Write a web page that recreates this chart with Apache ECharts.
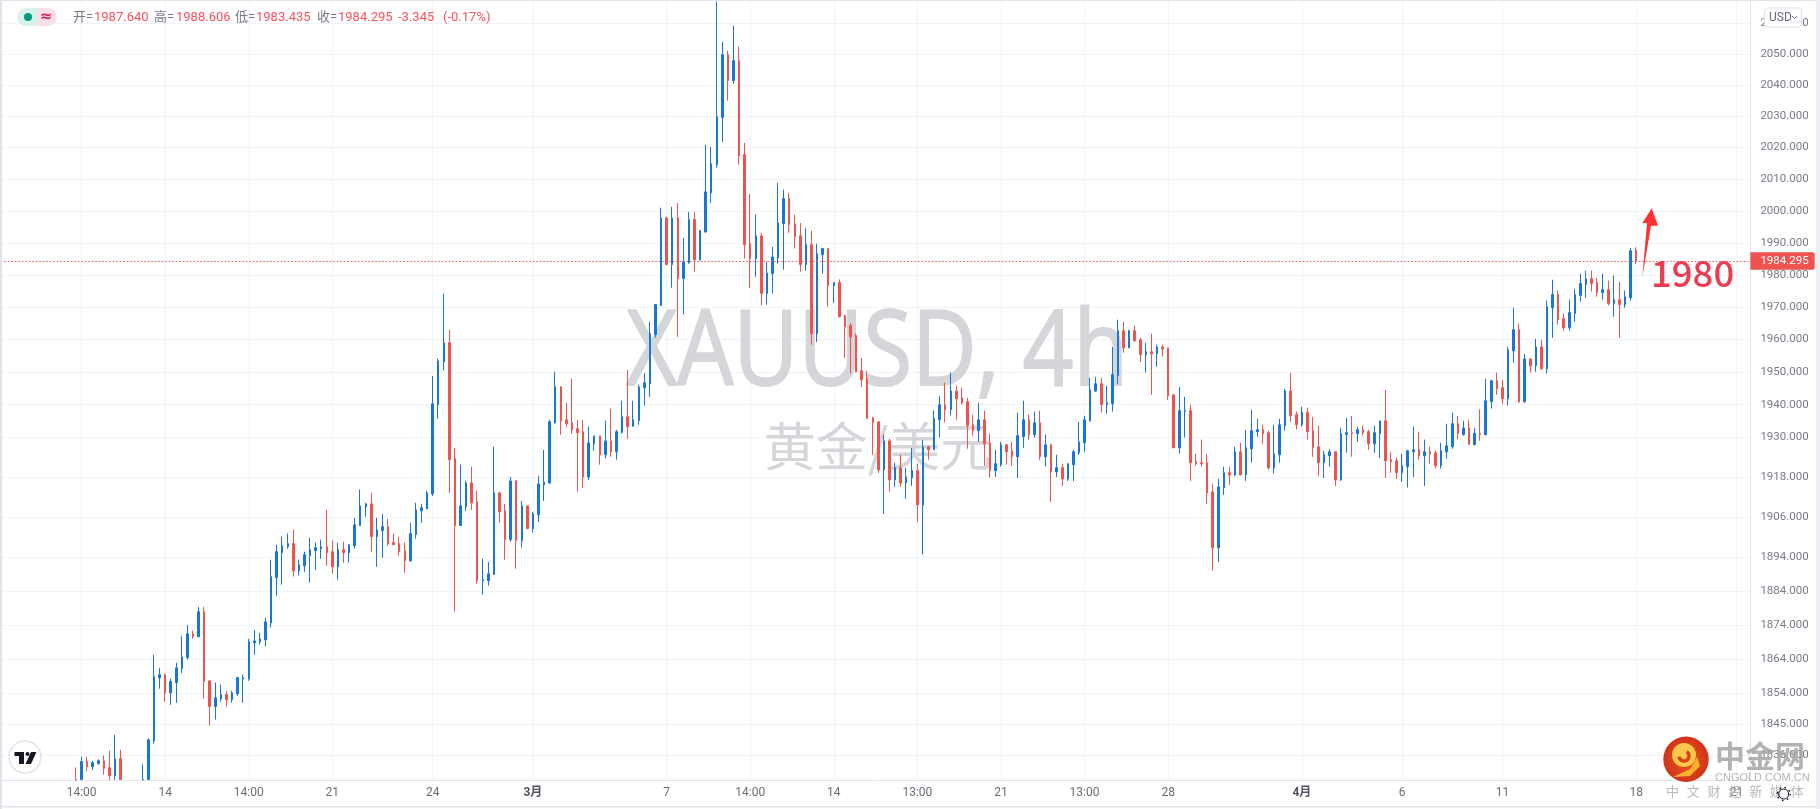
<!DOCTYPE html>
<html>
<head>
	<meta http-equiv="Content-Type" content="text/html; charset=utf-8">
	<title>XAUUSD 4h</title>
	<style>
		html,body{margin:0;padding:0;background:#fff;}
		#main{width:1820px;height:809px;}
	</style>
</head>
<body>
	<div id="main"></div>
<script type="text/javascript" src="https://cdn.jsdelivr.net/npm/echarts@6/dist/echarts.min.js"></script>
<script type="text/javascript">
	var barCount = 314;
	var firstBar = 13;
	// x轴刻度：所在K线序号和文字
	var tickIndex = [14,29,44,59,77,95,119,134,149,164,179,194,209,233,251,269,293,311];
	var tickLabel = ['14:00','14','14:00','21','24','3月','7','14:00','14','13:00','21','13:00','28','4月','6','11','18','21'];
	// y轴刻度（对数坐标，间隔不等）
	var priceTicks = [2060,2050,2040,2030,2020,2010,2000,1990,1980,1970,1960,1950,1940,1930,1918,1906,1894,1884,1874,1864,1854,1845,1836];
	var priceMin = 1828.9;
	var priceMax = 2066.9;
	var lastPrice = 1984.295;
	// 左上角 开高低收
	var legendLabels = ['开=','高=','低=','收='];
	var legendValues = ['1987.640','1988.606','1983.435','1984.295','-3.345','(-0.17%)'];
	var brandLine = ['中','文','财','经','新','媒','体'];
	// K线 [开, 收, 低, 高]，从序号13开始，看不到的几根留空
	var ohlc = [
		[1829,1828.9,1828.9,1832.5],[1829,1834.2,1829,1835.6],[1834.2,1832.7,1831.4,1835.6],[1832.7,1833.9,1831.7,1834.4],
		[1833.6,1834.4,1833.3,1834.8],[1834.4,1832.2,1830.4,1835.9],[1832.4,1830.1,1828.9,1837.3],[1830.1,1835,1828.9,1841.9],
		[1835,1829,1829,1837.6],null,null,null,
		[1828.9,1829,1828.9,1833.3],[1829,1840.5,1829,1840.8],[1840.2,1858.8,1839.3,1865.2],[1858.5,1859.4,1855.3,1861.4],
		[1859.4,1854.1,1851.5,1859.7],[1854.1,1857.4,1850.6,1858.2],[1857.1,1861.4,1851.2,1862.9],[1861.1,1864.6,1859.9,1870.8],
		[1864.4,1871.4,1863.8,1874],[1871.4,1870.5,1869.9,1872.3],[1870.5,1877.9,1870.5,1879.3],[1877.9,1857.4,1852.4,1879.3],
		[1857.6,1850.1,1844.6,1857.6],[1850.1,1852.7,1846.3,1857.1],[1852.4,1853.6,1851.5,1856.5],[1853.6,1852.1,1850.1,1854.7],
		[1852.1,1854.1,1851.2,1854.7],[1853.8,1858.5,1853.2,1858.8],[1858.2,1858.5,1851.2,1859.4],[1858.2,1869,1857.6,1869.9],
		[1868.7,1869.3,1865.2,1872.6],[1869,1869.9,1868.2,1871.7],[1869.6,1874.9,1867.6,1876.1],[1874.6,1888.3,1873.2,1893.3],
		[1888,1895.7,1882.6,1897.8],[1895.4,1897.5,1885.9,1900.2],[1897.2,1898.1,1896.6,1901.1],[1898.1,1890,1888.3,1902.3],
		[1890,1891.8,1888.6,1893.3],[1891.5,1894.8,1889.7,1895.7],[1894.5,1896.3,1886.5,1899.9],[1896,1896.9,1890.3,1898.4],
		[1896.6,1897.2,1893.6,1899.3],[1897.2,1895.4,1891.5,1908.2],[1895.7,1891.2,1889.2,1899],[1891.2,1896.3,1887.4,1898.4],
		[1896.3,1895.4,1892.4,1898.7],[1895.4,1897.8,1892.4,1897.8],[1897.5,1903.7,1896.6,1905.8],[1903.5,1909.4,1903.5,1914.3],
		[1909.1,1910,1906.1,1910.3],[1910,1900.2,1895.7,1913.3],[1900.2,1902.2,1891.2,1905.8],[1902,1903.2,1893.9,1907],
		[1903.2,1898.1,1897.5,1905.5],[1898.4,1897.8,1897.8,1901.1],[1898.1,1895.7,1894.5,1900.2],[1896,1893,1889.4,1898.4],
		[1893,1901.1,1892.7,1904.3],[1900.8,1908.2,1899.6,1910.3],[1907.9,1908.8,1904.3,1910],[1908.5,1913.3,1908.5,1913.9],
		[1913,1940.3,1912.4,1948.8],[1940,1953.4,1935.7,1954.1],[1953.1,1959,1950.4,1974.2],[1959,1923.3,1913.3,1963],
		[1923.6,1903.5,1877.9,1926.9],[1903.5,1909.4,1903.5,1921.8],[1909.1,1916.3,1907.9,1916.9],[1916.3,1910.3,1908.2,1921.2],
		[1910.6,1887.1,1886.2,1913.9],[1887.1,1887.4,1882.9,1893.6],[1887.1,1889.1,1885.6,1892.7],[1888.9,1913.3,1888.9,1927.2],
		[1913.3,1907.6,1904.3,1913.6],[1907.9,1899.3,1893.3,1910],[1899.3,1916.9,1898.7,1918.1],[1916.9,1899,1890.6,1917.2],
		[1899,1909.4,1896.9,1910.9],[1909.4,1902.6,1902.6,1909.4],[1902.6,1907,1901.4,1907.6],[1906.7,1916,1904.6,1918.4],
		[1915.7,1916.6,1910.9,1926.3],[1916.3,1934.8,1916,1935.4],[1934.5,1945.5,1934.2,1950.1],[1945.5,1935.1,1930.8,1945.5],
		[1935.4,1934.2,1933.3,1940.6],[1934.5,1932.4,1931.2,1948],[1932.7,1931.5,1913.6,1935.4],[1931.8,1918.1,1914.8,1935.4],
		[1918.1,1928.4,1917.2,1933.3],[1928.1,1930.5,1926,1930.5],[1930.5,1924.8,1921.8,1930.5],[1924.8,1929,1923.6,1935.1],
		[1929,1925.7,1924.2,1938.8],[1925.7,1931.8,1923.3,1932.4],[1931.5,1936.3,1931.2,1941.2],[1936.3,1933.3,1929.6,1950.7],
		[1933.4,1935.4,1933.4,1941.2],[1935.2,1945.4,1933.9,1946.1],[1945.2,1946.7,1939.7,1949.7],[1946.4,1961.8,1942.4,1965.5],
		[1961.5,1970.8,1960.6,1970.8],[1970.5,1997.8,1970.5,2001],[1997.8,1983.2,1983.2,1998.2],[1983.2,1997.8,1976,2001.3],
		[1997.8,1978.9,1960.8,2002.5],[1978.9,1984.1,1967.7,1991.5],[1983.7,1997.3,1983.5,1999.7],[1997.3,1984.7,1981,1999.7],
		[1984.7,1993.8,1984.4,1994.1],[1993.4,2006,1993.1,2020.9],[2005.7,2014.9,2002.5,2020.2],[2014.6,2029.8,2013.6,2066.9],
		[2029.6,2049.7,2021.8,2053.9],[2049.7,2041.4,2034.95,2051],[2041.4,2047.8,2040.4,2059.1],[2047.8,2017.4,2014.6,2052.3],
		[2017.8,1989.4,1985.1,2021.5],[1989.7,1985.1,1976,2005.3],[1985.1,1992.2,1979.4,1998.8],[1992.2,1974.2,1970.5,1993.1],
		[1974.2,1980.6,1970.8,1984.1],[1980.4,1985.6,1974.2,1988.7],[1985.3,1996.2,1983.5,2008.8],[1996,2003.9,1981.6,2006.7],
		[2003.9,1995.7,1993.1,2005.7],[1996,1991.9,1988.2,1998.8],[1992.2,1983.2,1981,1996.2],[1983.2,1989.4,1981.3,1994.7],
		[1989.4,1961.8,1958.4,1993.8],[1961.8,1986.6,1959.2,1989.7],[1986.3,1988.2,1980.4,1988.4],[1988.2,1976.7,1970.1,1988.2],
		[1976.7,1977.6,1971.3,1977.6],[1977.6,1967,1966.7,1978.6],[1967.3,1963.9,1954.3,1967.7],[1964.3,1960.8,1949.5,1965.1],
		[1961.2,1950,1950,1961.8],[1950.4,1947.6,1945.4,1954.3],[1948,1935.8,1935.8,1950.4],[1936,1934.6,1924.8,1936.3],
		[1934.8,1920.2,1919.3,1934.8],[1920.3,1929,1907,1930.9],[1929,1917.2,1913.6,1929.6],[1917.2,1920.9,1915.1,1922.4],
		[1920.9,1916.3,1915.1,1924.8],[1916.3,1918.1,1911.5,1920.9],[1917.8,1920,1915.4,1926.9],[1920,1909.7,1904.6,1922.1],
		[1909.7,1927.2,1894.8,1929.3],[1927.2,1926.3,1923.3,1927.5],[1926.3,1935.8,1926.3,1938.2],[1935.4,1940,1930,1942.7],
		[1940,1938.5,1934.6,1946.7],[1938.5,1944.2,1936.7,1949.8],[1944.2,1941.8,1935.4,1945.8],[1942.1,1940.6,1940,1945.2],
		[1940.9,1933.6,1926.6,1942.1],[1933.9,1932.1,1930.6,1936.9],[1932.1,1935.4,1928.7,1940.6],[1935.4,1928.1,1921.5,1938.2],
		[1928.4,1920,1917.8,1931.2],[1920,1922.1,1918.1,1926.3],[1921.8,1927.8,1921.2,1928.7],[1927.8,1925.7,1921.8,1928.1],
		[1926,1924.2,1921.5,1928.7],[1924.2,1930.6,1917.8,1937.6],[1930.3,1935.4,1926.9,1941.2],[1935.4,1930.9,1929.3,1937],
		[1930.9,1934.5,1930,1937.9],[1934.5,1924.2,1923.3,1938.2],[1924.2,1927.8,1921.2,1930.9],[1927.8,1919.6,1910.6,1928.1],
		[1919.6,1920.9,1918.1,1924.8],[1920.9,1917.5,1915.4,1922.1],[1917.5,1922.1,1916.9,1922.1],[1921.8,1925.7,1916.9,1926.3],
		[1925.4,1928.7,1924.8,1934.8],[1928.4,1935.4,1925.7,1936.6],[1935.1,1944.5,1934.8,1948.2],[1944.2,1946.4,1943.9,1948.5],
		[1946.4,1940,1937.6,1948.2],[1940,1940.6,1937.3,1945.8],[1940.3,1949.2,1937.9,1957.7],[1948.9,1962.7,1946.4,1966.1],
		[1962.7,1957.4,1955.9,1965.5],[1957.4,1962.7,1957.4,1963],[1962.7,1959.6,1959.3,1964.3],[1959.9,1955.3,1953.1,1960.5],
		[1955.3,1956.2,1949.8,1959],[1956.2,1955.6,1943,1961.8],[1955.6,1957.7,1951.6,1958.4],[1957.7,1957.1,1954.7,1958.4],
		[1957.4,1942.7,1941.5,1957.4],[1943,1926.9,1926.9,1943],[1926.9,1938.2,1925.1,1945.4],[1937.9,1938.2,1930,1942.4],
		[1938.2,1922.4,1916.9,1940],[1922.7,1922.1,1921.5,1925.1],[1922.4,1922.1,1921.2,1929.4],[1922.4,1913.3,1910,1925.1],
		[1913.6,1896.9,1890,1916],[1896.9,1915.1,1892.7,1917.5],[1914.8,1919.4,1912.7,1921.2],[1919.4,1918.7,1915.7,1921.2],
		[1918.7,1925.7,1918.4,1927.2],[1925.7,1918.7,1918.7,1928.4],[1918.7,1926.9,1916.9,1932.3],[1926.6,1932.1,1922.4,1938.5],
		[1931.8,1932.4,1930.3,1935.7],[1932.4,1931.2,1928.1,1933.9],[1931.5,1920.9,1920.3,1932.1],[1920.9,1925.1,1919.1,1933.9],
		[1924.8,1933.9,1922.4,1935.7],[1933.6,1944.2,1932.1,1944.8],[1944.2,1936.6,1934.8,1949.7],[1937,1933.9,1932.4,1937.9],
		[1933.9,1937.6,1933.3,1939.4],[1937.6,1931.8,1929.4,1939.1],[1932.1,1926.9,1924.2,1936.3],[1927.2,1922.4,1918.4,1933.6],
		[1922.4,1924.8,1917.8,1926],[1924.5,1925.7,1921.2,1926.6],[1925.7,1917.2,1915.4,1925.7],[1917.2,1931.2,1916.9,1933],
		[1930.9,1931.5,1925.4,1936],[1931.5,1931.2,1924.2,1936.6],[1931.2,1932.4,1928.7,1933.3],[1932.4,1931.5,1930.6,1933.6],
		[1931.8,1928.1,1926.3,1932.4],[1928.1,1931.5,1925.4,1933.6],[1931.2,1935.1,1923.9,1935.1],[1935.1,1923,1917.8,1944.5],
		[1923.3,1922.7,1919.4,1925.7],[1923,1919.4,1917.5,1923.9],[1919.4,1921.5,1916.6,1925.1],[1921.2,1926,1914.9,1926.3],
		[1925.7,1926.3,1918.1,1933.3],[1926.3,1924.5,1923.3,1931.8],[1924.5,1925.7,1915.4,1929.4],[1925.7,1925.1,1922.1,1927.2],
		[1925.4,1921.5,1920.6,1926],[1921.5,1926,1920.6,1928.4],[1925.7,1927.5,1923.6,1934.2],[1927.2,1934.2,1926.6,1937.6],
		[1934.2,1931.2,1929.4,1936.6],[1930.9,1932.9,1930.6,1935.1],[1932.9,1927.9,1927.9,1935.4],[1927.9,1931.3,1927.6,1932.9],
		[1931.3,1930.9,1929,1938.6],[1930.9,1941.2,1930.6,1947.9],[1940.9,1947.3,1938.8,1947.6],[1947.3,1944.9,1943,1949.8],
		[1945.2,1941.8,1940.3,1947.6],[1941.8,1956.8,1939.7,1957.7],[1956.5,1963,1952.8,1969.8],[1963,1940.9,1940.6,1964.9],
		[1940.9,1954,1940.6,1955.6],[1954,1951.9,1949.8,1954],[1951.9,1957.7,1950.1,1960.2],[1957.7,1951,1950.7,1959.9],
		[1951,1970.1,1949.5,1972],[1969.8,1973.9,1960.5,1978.5],[1973.9,1966.1,1964.6,1975.1],[1966.4,1963.6,1962.7,1968],
		[1963.6,1968.3,1962.7,1972.3],[1968,1973.9,1965.5,1975.7],[1973.6,1977.3,1971.7,1980.4],[1977,1978.8,1972.9,1981.3],
		[1978.8,1977.3,1974.8,1981.3],[1977.6,1974.5,1973.2,1979.1],[1974.5,1975.4,1972.3,1980.4],[1975.4,1971.1,1970.5,1978.2],
		[1971.1,1972.3,1967,1979.8],[1972.3,1970.8,1960.5,1977.9],[1970.8,1973.2,1969.8,1975.1],[1972.9,1987.5,1972,1988.4],
		[1987.64,1984.295,1983.435,1988.606]
	];

	var categories = [];
	var chartData = [];
	for(var i = 0; i < barCount; i++){
		categories.push('');
		chartData.push(i >= firstBar && ohlc[i - firstBar] ? ohlc[i - firstBar] : ['-','-','-','-']);
	}
	for(var t = 0; t < tickIndex.length; t++){
		categories[tickIndex[t]] = tickLabel[t];
	}
	function isTick(index, value){
		return value !== '';
	}

	var grayText = '#787b86';
	var redText = '#f7525f';
	var fontFamily = 'Roboto, "Noto Sans CJK SC", sans-serif';

	// 顶部图例：每段的x位置
	var legendLabelX = [73,154,235,317];
	var legendValueX = [94,176,256,338,398,443];
	var graphics = [
		// 外框
		{type:'rect',shape:{x:0,y:0,width:2,height:809},style:{fill:'#e0e3eb'},z:20,silent:true},
		{type:'rect',shape:{x:0,y:0,width:1820,height:1},style:{fill:'#e0e3eb'},z:20,silent:true},
		{type:'rect',shape:{x:0,y:806,width:1820,height:1.5},style:{fill:'#e0e3eb'},z:20,silent:true},
		{type:'rect',shape:{x:1816,y:0,width:4,height:809},style:{fill:'#eceef4'},z:20,silent:true},
		// 水印
		{type:'text',x:877,y:355,scaleX:0.855,z:1,silent:true,style:{text:'XAUUSD, 4h',x:0,y:0,fill:'#d5d6da',stroke:'#d5d6da',lineWidth:2,font:'104px "Open Sans", sans-serif',textAlign:'center',textVerticalAlign:'middle'}},
		{type:'text',x:878,y:446,z:1,silent:true,style:{text:'黄金/美元',x:0,y:0,fill:'#d5d6da',font:'52px "Noto Sans CJK SC", sans-serif',textAlign:'center',textVerticalAlign:'middle'}},
		// 图例小胶囊
		{type:'rect',shape:{x:17,y:8,width:20,height:18,r:[9,0,0,9]},style:{fill:'#d8f1ec'},z:20},
		{type:'rect',shape:{x:37,y:8,width:20,height:18,r:[0,9,9,0]},style:{fill:'#fbdfe8'},z:20},
		{type:'circle',shape:{cx:28,cy:17,r:4},style:{fill:'#089981'},z:21},
		{type:'text',x:46,y:17,z:21,style:{text:'≈',x:0,y:0,fill:'#d81b60',font:'bold 15px "DejaVu Sans"',textAlign:'center',textVerticalAlign:'middle'}},
		// USD 按钮
		{type:'rect',shape:{x:1764.5,y:8,width:37,height:19,r:3},style:{fill:'#fff',stroke:'#e0e3eb',lineWidth:1},z:20},
		{type:'text',x:1769,y:17.5,z:21,style:{text:'USD',x:0,y:0,fill:'#6a6d78',font:'12px Roboto',textVerticalAlign:'middle'}},
		{type:'polyline',shape:{points:[[1792,16],[1794.5,18.5],[1797,16]]},style:{stroke:'#6a6d78',fill:null,lineWidth:1},z:21},
		// 红色箭头和 1980
		{type:'polygon',shape:{points:[[1642.3,277.3],[1647,223],[1642.3,223.3],[1651.7,208.3],[1658,225.7],[1651,225.7]]},style:{fill:'#ff3333'},z:22},
		{type:'text',x:1651,y:273,z:22,style:{text:'1980',x:0,y:0,fill:'#ee3d52',font:'500 36.5px "Noto Sans CJK SC"',textVerticalAlign:'middle'}},
		// TV 标志
		{type:'circle',shape:{cx:25,cy:757,r:16},style:{fill:'#fff',stroke:'#e0e3eb',lineWidth:1.5},z:20},
		{type:'polygon',shape:{points:[[14.5,752],[24,752],[24,764],[19,764],[19,756],[14.5,756]]},style:{fill:'#131722'},z:21},
		{type:'circle',shape:{cx:27.5,cy:754,r:2},style:{fill:'#131722'},z:21},
		{type:'polygon',shape:{points:[[31,752],[36.4,752],[31,764],[25.5,764]]},style:{fill:'#131722'},z:21},
		// 中金网 标志
		{type:'circle',shape:{cx:1686,cy:759.3,r:22.7},style:{fill:{type:'radial',x:0.5,y:0.5,r:0.6,colorStops:[{offset:0,color:'#ee5a1c'},{offset:1,color:'#c92a1a'}]}},z:20},
		{type:'circle',shape:{cx:1684,cy:755,r:12},style:{fill:'#fbc64a'},z:21},
		{type:'arc',shape:{cx:1684,cy:756,r:5,startAngle:-1,endAngle:3},style:{stroke:'#d8401c',fill:null,lineWidth:3.5},z:22},
		{type:'polygon',shape:{points:[[1673,777],[1690,769],[1697,757],[1700,766],[1690,776]]},style:{fill:'#fbb02e'},z:21},
		{type:'text',x:1715,y:756,z:22,style:{text:'中金网',x:0,y:0,fill:'rgba(165,165,165,0.85)',font:'bold 30px "Noto Sans CJK SC"',textVerticalAlign:'middle'}},
		{type:'text',x:1715,y:778,z:22,style:{text:'CNGOLD.COM.CN',x:0,y:0,fill:'#b4b4b4',font:'11px "Liberation Sans"',textVerticalAlign:'middle'}},
		// 设置图标
		{type:'circle',shape:{cx:1783.7,cy:794,r:5},style:{fill:'rgba(255,255,255,0.6)',stroke:'#131722',lineWidth:1},z:23},
		{type:'circle',shape:{cx:1783.7,cy:794,r:6.5},style:{fill:null,stroke:'#131722',lineWidth:1.5,lineDash:[1.5,3.6]},z:23}
	];
	legendLabels.forEach(function(label, n){
		graphics.push({type:'text',x:legendLabelX[n],y:18,z:21,style:{text:label,x:0,y:0,fill:grayText,font:'13px Roboto, "Noto Sans CJK SC"',textVerticalAlign:'middle'}});
	});
	legendValues.forEach(function(val, n){
		graphics.push({type:'text',x:legendValueX[n],y:18,z:21,style:{text:val,x:0,y:0,fill:redText,font:'13px Roboto',textVerticalAlign:'middle'}});
	});
	brandLine.forEach(function(ch, n){
		graphics.push({type:'text',x:1666 + n * 20.8,y:791,z:22,style:{text:ch,x:0,y:0,fill:'#b9b9b9',font:'13px "Noto Sans CJK SC"',textVerticalAlign:'middle'}});
	});

	var myChart = echarts.init(document.getElementById('main'));
	var option = {
		animation:false,
		graphic:graphics,
		grid:{left:0.8,top:1.6,width:1749.6,height:778.3},
		xAxis:{
			type:'category',
			data:categories,
			boundaryGap:true,
			axisLine:{lineStyle:{color:'#e0e3eb'}},
			axisTick:{show:false,alignWithLabel:true},
			axisLabel:{
				interval:isTick,
				margin:7,
				color:'#6a6d78',
				fontSize:12,
				fontFamily:fontFamily,
				formatter:function(value){
					return value.indexOf('月') > -1 ? '{b|' + value + '}' : value;
				},
				rich:{b:{fontWeight:'bold',color:'#50535e',fontSize:12,fontFamily:fontFamily}}
			},
			splitLine:{show:true,interval:isTick,alignWithLabel:true,lineStyle:{color:'#f0f3fa'}}
		},
		yAxis:{
			type:'log',
			logBase:10,
			position:'right',
			min:priceMin,
			max:priceMax,
			axisLine:{show:true,lineStyle:{color:'#e0e3eb'}},
			axisTick:{show:false,customValues:priceTicks},
			axisLabel:{
				customValues:priceTicks,
				margin:10,
				color:grayText,
				fontSize:11.5,
				fontFamily:fontFamily,
				formatter:function(value){ return Number(value).toFixed(3); }
			},
			splitLine:{show:true,lineStyle:{color:'#f0f3fa'}}
		},
		series:[{
			type:'candlestick',
			data:chartData,
			barWidth:2,
			clip:true,
			itemStyle:{color:'#1976d2',color0:'#ef5350',borderColor:'#1976d2',borderColor0:'#ef5350',borderWidth:1},
			markLine:{
				silent:true,
				symbol:'none',
				animation:false,
				lineStyle:{color:'#ef5350',type:[1.5,2],width:1},
				label:{
					show:true,
					position:'end',
					distance:0,
					formatter:function(){ return lastPrice.toFixed(3); },
					color:'#fff',
					backgroundColor:'#ef5350',
					padding:[3,6,3,10],
					borderRadius:[0,2,2,0],
					fontSize:11.5,
					fontFamily:fontFamily
				},
				data:[{yAxis:lastPrice}]
			}
		}]
	};
	myChart.setOption(option);
</script>
</body>
</html>
